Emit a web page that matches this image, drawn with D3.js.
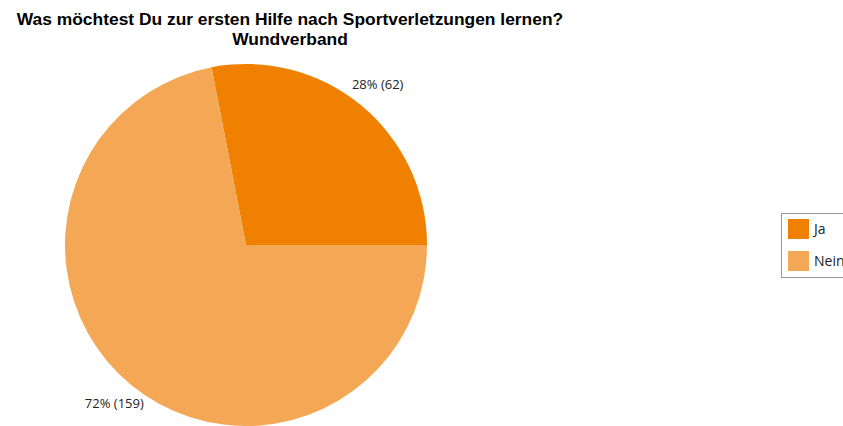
<!DOCTYPE html>
<html>
<head>
<meta charset="utf-8">
<script src="https://cdn.jsdelivr.net/npm/d3@7"></script>
<style>
  html, body { margin: 0; padding: 0; background: #fff; overflow: hidden; }
  svg { display: block; }
</style>
</head>
<body>
<svg id="chart" width="843" height="426"></svg>
<script>
// Survey answers
const categories = ["Ja", "Nein"];
const counts = [62, 159];
const percentLabels = ["28%", "72%"];
const colors = ["#F08000", "#F4A856"];
const titleLines = ["Was möchtest Du zur ersten Hilfe nach Sportverletzungen lernen?", "Wundverband"];

const svg = d3.select("#chart");

// Title
const title = svg.append("g")
  .attr("font-family", "Liberation Sans, Arial, sans-serif")
  .attr("font-weight", "bold")
  .attr("font-size", 17.4)
  .attr("fill", "#000")
  .attr("text-anchor", "middle");
titleLines.forEach((t, i) => {
  title.append("text").attr("x", 290).attr("y", 25 + i * 20).text(t);
});

// Pie
const cx = 246, cy = 245, r = 181;
const data = categories.map((c, i) => ({ cat: c, value: counts[i], pct: percentLabels[i], color: colors[i] }));

// Slices run counter-clockwise from the 3 o'clock position
const pie = d3.pie().value(d => d.value).sort(null)
  .startAngle(Math.PI / 2).endAngle(Math.PI / 2 - 2 * Math.PI);
const arcs = pie(data);
const arc = d3.arc().innerRadius(0).outerRadius(r);

const g = svg.append("g").attr("transform", `translate(${cx},${cy})`);
g.selectAll("path").data(arcs).join("path")
  .attr("d", arc)
  .attr("fill", d => d.data.color);

// Slice labels centred just outside the rim
const labelFont = "Open Sans, Noto Sans, sans-serif";
const labelArc = d3.arc().innerRadius(r + 26).outerRadius(r + 26);
g.selectAll("text.lbl").data(arcs).join("text")
  .attr("class", "lbl")
  .attr("font-family", labelFont)
  .attr("font-size", 13)
  .attr("fill", "#222")
  .attr("dominant-baseline", "middle")
  .attr("text-anchor", "middle")
  .attr("transform", d => {
    const [x, y] = labelArc.centroid(d);
    return `translate(${x},${y})`;
  })
  .text(d => `${d.data.pct} (${d.data.value})`);

// Legend
const lg = svg.append("g").attr("transform", "translate(781,213)");
lg.append("rect")
  .attr("x", 0.5).attr("y", 0.5)
  .attr("width", 80).attr("height", 64)
  .attr("fill", "#fff").attr("stroke", "#999").attr("stroke-width", 1);
data.forEach((d, i) => {
  lg.append("rect")
    .attr("x", 7).attr("y", 6 + i * 32)
    .attr("width", 21).attr("height", 20)
    .attr("fill", d.color);
  lg.append("text")
    .attr("x", 33).attr("y", 17 + i * 32)
    .attr("dominant-baseline", "middle")
    .attr("font-family", labelFont)
    .attr("font-size", 14)
    .attr("fill", "#222")
    .text(d.cat);
});
</script>
</body>
</html>
